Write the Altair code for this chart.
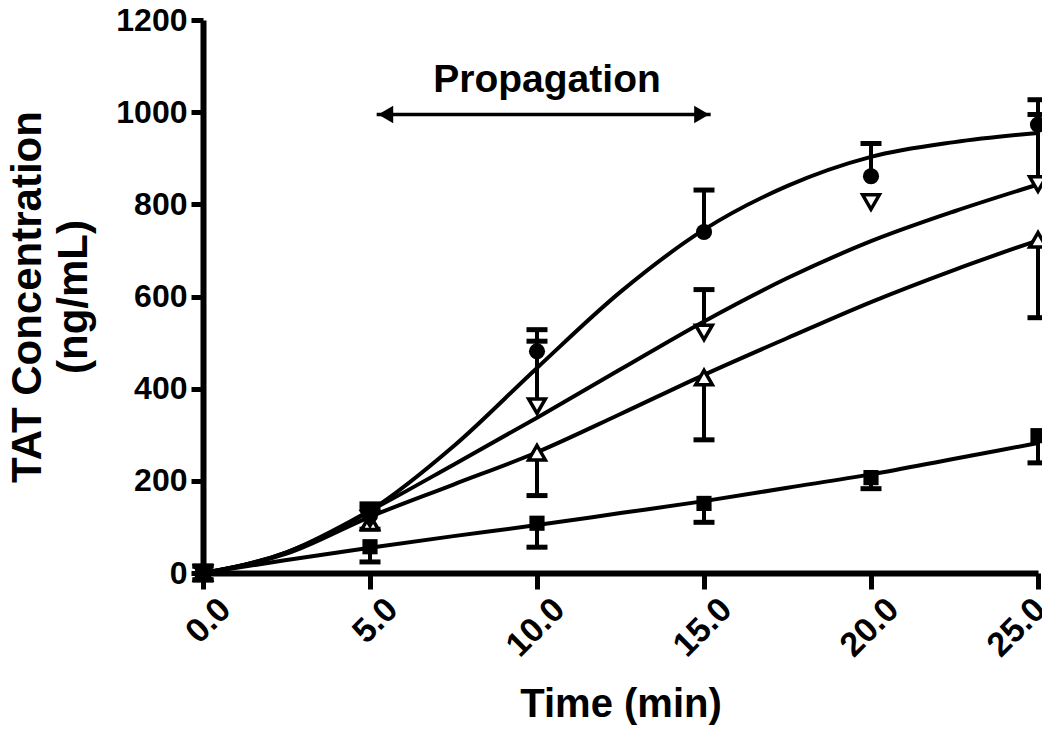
import altair as alt
import pandas as pd

# ---- data ----
times = [0, 5, 10, 15, 20, 25]

circle_y = [0, 125, 481, 740, 861, 973]
circle_hi = [15, 150, 528, 831, 932, 1027]

invtri_t = [0, 5, 10, 15, 20, 25]
invtri_y = [0, 118, 362, 522, 805, 844]
invtri_hi = [15, 140, 503, 615, None, 995]

tri_t = [0, 5, 10, 15, 25]
tri_y = [0, 110, 261, 424, 723]
tri_lo = [-15, 95, 168, 289, 554]

square_y = [0, 57, 108, 151, 207, 298]
square_lo = [-15, 24, 56, 110, 183, 239]

curve_t = [0, 2.5, 5, 7.5, 10, 12.5, 15, 17.5, 20, 22.5, 25]
circle_fit = [0, 45, 135, 275, 445, 610, 745, 840, 903, 935, 955]
invtri_fit = [0, 45, 135, 235, 337, 442, 546, 640, 720, 785, 843]
tri_fit = [0, 42, 122, 192, 262, 345, 430, 510, 588, 658, 722]
square_fit = [0, 28, 55, 80, 104, 130, 156, 185, 214, 248, 282]

arrow_start, arrow_end, arrow_y = 5.2, 15.2, 995
label_text = "Propagation"
label_x, label_y = 10.3, 1070

x_ticks = [0, 5, 10, 15, 20, 25]
y_ticks = [0, 200, 400, 600, 800, 1000, 1200]

FONT = "Liberation Sans"

# ---- tables ----
curves = pd.concat([
    pd.DataFrame({"t": curve_t, "v": circle_fit, "s": "circle"}),
    pd.DataFrame({"t": curve_t, "v": invtri_fit, "s": "invtri"}),
    pd.DataFrame({"t": curve_t, "v": tri_fit, "s": "tri"}),
    pd.DataFrame({"t": curve_t, "v": square_fit, "s": "square"}),
])

err = pd.concat([
    pd.DataFrame({"t": times, "a": circle_y, "b": circle_hi}),
    pd.DataFrame({"t": invtri_t, "a": invtri_y, "b": invtri_hi}),
    pd.DataFrame({"t": tri_t, "a": tri_y, "b": tri_lo}),
    pd.DataFrame({"t": times, "a": square_y, "b": square_lo}),
]).dropna()

pts_circle = pd.DataFrame({"t": times, "v": circle_y})
pts_invtri = pd.DataFrame({"t": invtri_t, "v": invtri_y})
pts_tri = pd.DataFrame({"t": tri_t, "v": tri_y})
pts_square = pd.DataFrame({"t": times, "v": square_y})

xscale = alt.Scale(domain=[0, 25], nice=False, zero=False)
yscale = alt.Scale(domain=[0, 1200], nice=False)

xaxis = alt.Axis(values=x_ticks, format=".1f", labelAngle=-45, labelAlign="right",
                 labelBaseline="top", title="Time (min)", grid=False,
                 tickSize=16, tickWidth=5, domainWidth=6, domainColor="black",
                 tickColor="black", labelFont=FONT, labelFontSize=34, labelFontWeight="bold",
                 labelColor="black", titleFont=FONT, titleFontSize=40, titleFontWeight="bold",
                 titleColor="black", labelPadding=3,
                 labelOffset={"condition": {"test": "datum.value == 25", "value": -10}, "value": 10},
                 titlePadding=22, labelBound=False, labelOverlap=False)
yaxis = alt.Axis(values=y_ticks, format="d", title=["TAT Concentration", "(ng/mL)"], grid=False,
                 tickSize=12, tickWidth=5, domainWidth=6, domainColor="black",
                 tickColor="black", labelFont=FONT, labelFontSize=32, labelFontWeight="bold",
                 labelColor="black", titleFont=FONT, titleFontSize=42, titleFontWeight="bold",
                 titleColor="black", titleLineHeight=46, labelPadding=4, titlePadding=20,
                 labelFlush=False)

X = alt.X("t:Q", scale=xscale, axis=xaxis)
Y = alt.Y("v:Q", scale=yscale, axis=yaxis)

lines = alt.Chart(curves).mark_line(color="black", strokeWidth=4, interpolate="monotone").encode(
    x=X, y=Y, detail="s:N")

bars = alt.Chart(err).mark_rule(color="black", strokeWidth=4).encode(
    x=alt.X("t:Q", scale=xscale), y=alt.Y("a:Q", scale=yscale), y2="b:Q")
caps = alt.Chart(err).mark_tick(color="black", orient="horizontal", size=21, thickness=5, opacity=1).encode(
    x=alt.X("t:Q", scale=xscale), y=alt.Y("b:Q", scale=yscale))

p_circle = alt.Chart(pts_circle).mark_point(shape="circle", filled=True, color="black", size=260, opacity=1).encode(
    x=alt.X("t:Q", scale=xscale), y=alt.Y("v:Q", scale=yscale))
p_square = alt.Chart(pts_square).mark_point(shape="square", filled=True, color="black", size=230, opacity=1).encode(
    x=alt.X("t:Q", scale=xscale), y=alt.Y("v:Q", scale=yscale))
p_invtri = alt.Chart(pts_invtri).mark_point(shape="triangle-down", filled=True, fill="white", stroke="black",
                                             strokeWidth=3.5, size=280, opacity=1).encode(
    x=alt.X("t:Q", scale=xscale), y=alt.Y("v:Q", scale=yscale))
p_tri = alt.Chart(pts_tri).mark_point(shape="triangle-up", filled=True, fill="white", stroke="black",
                                       strokeWidth=3.5, size=280, opacity=1).encode(
    x=alt.X("t:Q", scale=xscale), y=alt.Y("v:Q", scale=yscale))

arrow_df = pd.DataFrame({"t": [arrow_start], "t2": [arrow_end], "v": [arrow_y]})
arrow_line = alt.Chart(arrow_df).mark_rule(color="black", strokeWidth=3.5).encode(
    x=alt.X("t:Q", scale=xscale), x2="t2:Q", y=alt.Y("v:Q", scale=yscale))
heads_df = pd.DataFrame({"t": [arrow_start + 0.27, arrow_end - 0.27], "v": [arrow_y, arrow_y],
                         "shape": ["triangle-left", "triangle-right"]})
heads = alt.Chart(heads_df).mark_point(filled=True, color="black", size=300, opacity=1).encode(
    x=alt.X("t:Q", scale=xscale), y=alt.Y("v:Q", scale=yscale),
    shape=alt.Shape("shape:N", scale=None, legend=None))

text_df = pd.DataFrame({"t": [label_x], "v": [label_y], "label": [label_text]})
text = alt.Chart(text_df).mark_text(font=FONT, fontSize=39, fontWeight="bold", color="black").encode(
    x=alt.X("t:Q", scale=xscale), y=alt.Y("v:Q", scale=yscale), text="label:N")

chart = alt.layer(lines, bars, caps, p_square, p_tri, p_invtri, p_circle, arrow_line, heads, text).properties(
    width=835, height=553,
    autosize=alt.AutoSizeParams(type="none"),
    padding={"left": 195, "top": 12, "right": 4, "bottom": 154},
    background="white",
).configure_view(stroke=None)

chart.save("out.html", embed_options={"renderer": "svg", "actions": False})
